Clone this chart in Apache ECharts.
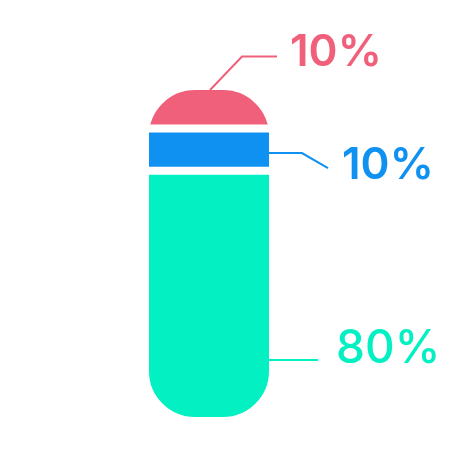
<!DOCTYPE html>
<html><head><meta charset="utf-8">
<script src="https://cdn.jsdelivr.net/npm/echarts@6/dist/echarts.min.js"></script>
<style>html,body{margin:0;padding:0;background:#fff}#c{width:476px;height:452px}</style>
</head><body><div id="c"></div>
<script>
// ---- data (bottom to top) ----
const categories = ['Total'];
const segmentNames = ['Teal', 'Blue', 'Red'];
const segmentValues = [80, 10, 10];
const labelTexts = ['80%', '10%', '10%'];

// ---- styles ----
const colors = ['#03F0C3', '#0E91F0', '#F1607A'];
const radii = [[0, 0, 50, 50], [0, 0, 50, 50], [50, 50, 50, 50]];
const fontWeights = [500, 600, 600];
const fontSizes = [46, 44, 44];
const BORDER = 8;

// cumulative tops built from the values
const tops = [];
let acc = 0;
segmentValues.forEach(v => { acc += v; tops.push(acc); });

// leader-line geometry (pixel offsets relative to an anchor on the segment)
const leader = [
  { anchor: 'right', dy: 64, pts: [[0, 0], [49, 0]], tx: 67, ty: -11 },
  { anchor: 'right', dy: 3.5, pts: [[0, 0], [33, 0], [59, 15]], tx: 73, ty: 13 },
  { anchor: 'top', dy: 0, pts: [[0, 0], [32, -33.5], [67, -33.5]], tx: 80, ty: -37.5 }
];

const chart = echarts.init(document.getElementById('c'), null, { renderer: 'canvas' });

// draw order: top segment first (behind), bottom segment last (front)
const barSeries = [2, 1, 0].map(i => ({
  type: 'bar',
  name: segmentNames[i],
  data: [tops[i]],
  barWidth: 136,
  barGap: '-100%',
  silent: true,
  itemStyle: {
    color: colors[i],
    borderColor: '#ffffff',
    borderWidth: BORDER,
    borderRadius: radii[i]
  },
  emphasis: { disabled: true }
}));

const annotation = {
  type: 'custom',
  coordinateSystem: 'cartesian2d',
  silent: true,
  z: 10,
  data: segmentValues.map((v, i) => [0, tops[i]]),
  renderItem: function (params, api) {
    const i = params.dataIndex;
    const L = leader[i];
    const topPx = api.coord([0, tops[i]]);
    const botPx = api.coord([0, Math.max(tops[i] - segmentValues[i], 20)]);
    const half = api.size([1, 0])[0] / 2 - BORDER;
    const cx = topPx[0];
    const visTop = topPx[1] + BORDER;
    const visBot = botPx[1] - (i === 0 ? BORDER / 2 : 0);
    let ax, ay;
    if (L.anchor === 'top') { ax = cx + 1; ay = visTop; }
    else { ax = cx + half; ay = (visTop + visBot) / 2 + L.dy; }
    return {
      type: 'group',
      children: [
        {
          type: 'polyline',
          shape: { points: L.pts.map(p => [ax + p[0], ay + p[1]]) },
          style: { stroke: colors[i], lineWidth: 2, fill: null }
        },
        {
          type: 'text',
          style: {
            text: labelTexts[i],
            x: ax + L.tx,
            y: ay + L.ty,
            fill: colors[i],
            fontSize: fontSizes[i],
            fontFamily: 'Inter',
            fontWeight: fontWeights[i],
            align: 'left',
            verticalAlign: 'middle'
          }
        }
      ]
    };
  }
};

chart.setOption({
  animation: false,
  backgroundColor: '#ffffff',
  grid: { left: 141, width: 136, top: 82, bottom: 31 },
  xAxis: { type: 'category', data: categories, show: false },
  yAxis: { type: 'value', min: 20, max: 100, show: false },
  series: barSeries.concat([annotation])
});
</script>
</body></html>
